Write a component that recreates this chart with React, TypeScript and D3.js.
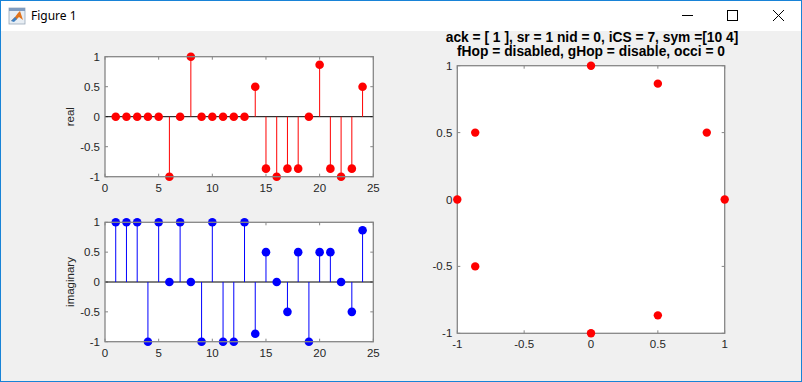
import React from 'react';
import * as d3 from 'd3';

const indices = d3.range(1, 25);
const realValues = [0, 0, 0, 0, 0, -1, 0, 1, 0, 0, 0, 0, 0, 0.5, -0.866, -1, -0.866, -0.866, 0, 0.866, -0.866, -1, -0.866, 0.5];
const imagValues = [1, 1, 1, -1, 1, 0, 1, 0, -1, 1, -1, -1, 1, -0.866, 0.5, 0, -0.5, 0.5, -1, 0.5, 0.5, 0, -0.5, 0.866];
const constRe = [0, 0.5, 0.866, 1, 0.5, 0, -0.866, -1, -0.866];
const constIm = [1, 0.866, 0.5, 0, -0.866, -1, -0.5, 0, 0.5];
const stemXTicks = [0, 5, 10, 15, 20, 25];
const stemYTicks = [-1, -0.5, 0, 0.5, 1];
const constTicks = [-1, -0.5, 0, 0.5, 1];
const titleLines = ['ack = [ 1 ], sr = 1 nid = 0, iCS = 7, sym =[10 4]', 'fHop = disabled, gHop = disable, occi = 0'];

const W = 802, H = 382;
const AX = '#868686';
const TXT = '#262626';
const FONT = '"Liberation Sans", Arial, Helvetica, sans-serif';
const fmt = (v: number) => (v === 0 ? '0' : String(v));

function Frame({ x, y, xt, yt, tl = 3 }: any) {
  const [x0, x1] = x.range();
  const [y0, y1] = y.range();
  return (
    <g>
      <rect x={x0} y={y1} width={x1 - x0} height={y0 - y1} fill="#fff" />
      {xt.map((t: number) => (
        <g key={'x' + t}>
          <line x1={x(t)} x2={x(t)} y1={y0} y2={y0 - tl} stroke={AX} />
          <line x1={x(t)} x2={x(t)} y1={y1} y2={y1 + tl} stroke={AX} />
        </g>
      ))}
      {yt.map((t: number) => (
        <g key={'y' + t}>
          <line x1={x0} x2={x0 + tl} y1={y(t)} y2={y(t)} stroke={AX} />
          <line x1={x1} x2={x1 - tl} y1={y(t)} y2={y(t)} stroke={AX} />
        </g>
      ))}
    </g>
  );
}

function Box({ x, y }: any) {
  const [x0, x1] = x.range();
  const [y0, y1] = y.range();
  return <rect x={x0} y={y1} width={x1 - x0} height={y0 - y1} fill="none" stroke={AX} strokeWidth={1.3} />;
}

function Labels({ x, y, xt, yt }: any) {
  const [x0] = x.range();
  const [y0] = y.range();
  return (
    <g fontFamily={FONT} fontSize={11.5} fill={TXT}>
      {xt.map((t: number) => (
        <text key={'x' + t} x={x(t)} y={y0 + 15} textAnchor="middle">{fmt(t)}</text>
      ))}
      {yt.map((t: number) => (
        <text key={'y' + t} x={x0 - 5} y={y(t) + 4} textAnchor="end">{fmt(t)}</text>
      ))}
    </g>
  );
}

function StemPlot({ vals, color, top, bottom, label }: any) {
  const x = d3.scaleLinear().domain([0, 25]).range([105, 373.3]);
  const y = d3.scaleLinear().domain([-1, 1]).range([bottom, top]);
  return (
    <g>
      <Frame x={x} y={y} xt={stemXTicks} yt={stemYTicks} />
      <line x1={x(0)} x2={x(25)} y1={y(0)} y2={y(0)} stroke="#000" strokeWidth={1} />
      {indices.map((n, i) => (
        <line key={'s' + n} x1={x(n)} x2={x(n)} y1={y(0)} y2={y(vals[i])} stroke={color} strokeWidth={1} />
      ))}
      {indices.map((n, i) => (
        <circle key={'c' + n} cx={x(n)} cy={y(vals[i])} r={4.3} fill={color} />
      ))}
      <Box x={x} y={y} />
      <Labels x={x} y={y} xt={stemXTicks} yt={stemYTicks} />
      <text transform={`translate(${74},${(top + bottom) / 2}) rotate(-90)`} textAnchor="middle" fontFamily={FONT} fontSize={11.5} fill={TXT}>{label}</text>
    </g>
  );
}

function Constellation() {
  const x = d3.scaleLinear().domain([-1, 1]).range([457.3, 724.7]);
  const y = d3.scaleLinear().domain([-1, 1]).range([333.3, 65.7]);
  return (
    <g>
      <Frame x={x} y={y} xt={constTicks} yt={constTicks} />
      <Box x={x} y={y} />
      {constRe.map((r, i) => (
        <circle key={i} cx={x(r)} cy={y(constIm[i])} r={4.2} fill="#ff0000" />
      ))}
      <Labels x={x} y={y} xt={constTicks} yt={constTicks} />
      <g fontFamily={FONT} fontSize={13.8} fontWeight="bold" fill="#000" textAnchor="middle">
        <text x={(x(-1) + x(1)) / 2 + 1} y={41.8}>{titleLines[0]}</text>
        <text x={(x(-1) + x(1)) / 2} y={55.8}>{titleLines[1]}</text>
      </g>
    </g>
  );
}

function TitleBar() {
  return (
    <g>
      <rect x={0} y={0} width={W} height={31} fill="#fff" />
      <g transform="translate(9,8)">
        <rect x={0} y={0} width={16} height={16} fill="#e8eef4" stroke="#9aa8b8" strokeWidth={0.8} />
        <rect x={0} y={0} width={16} height={3} fill="#7f9cc0" />
        <path d="M2,13 L6,9 L9,5 L11,3 L14,12 L10,9 L7,12 Z" fill="#e0731c" />
        <path d="M2,13 L6,9 L8,11 L5,14 Z" fill="#3c7fc2" />
      </g>
      <text x={31} y={20} fontFamily='"Noto Sans", "Open Sans", sans-serif' fontSize={12} fill="#000">Figure 1</text>
      <line x1={682} x2={693} y1={15.5} y2={15.5} stroke="#000" strokeWidth={1} />
      <rect x={727.5} y={10.5} width={10} height={10} fill="none" stroke="#000" strokeWidth={1} />
      <path d="M773,10 L784,21 M784,10 L773,21" stroke="#000" strokeWidth={1} />
    </g>
  );
}

export default function App() {
  return (
    <svg width={W} height={H} style={{ position: 'absolute', left: 0, top: 0, display: 'block' }}>
      <rect x={0} y={0} width={W} height={H} fill="#f0f0f0" />
      <TitleBar />
      <StemPlot vals={realValues} color="#ff0000" top={56.7} bottom={176.7} label="real" />
      <StemPlot vals={imagValues} color="#0000ff" top={222.3} bottom={341.7} label="imaginary" />
      <Constellation />
      <rect x={0.5} y={0.5} width={W - 1} height={H - 1} fill="none" stroke="#1883d7" strokeWidth={1} />
    </svg>
  );
}
